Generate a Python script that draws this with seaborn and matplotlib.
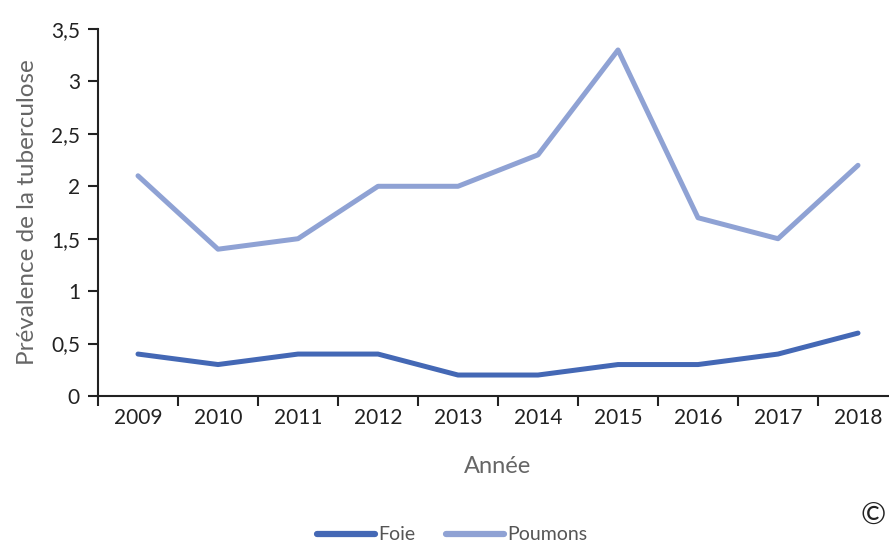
import matplotlib
matplotlib.use("Agg")
import matplotlib.pyplot as plt
import seaborn as sns
import pandas as pd
from matplotlib.lines import Line2D

years = ["2009", "2010", "2011", "2012", "2013", "2014", "2015", "2016", "2017", "2018"]
foie = [0.4, 0.3, 0.4, 0.4, 0.2, 0.2, 0.3, 0.3, 0.4, 0.6]
poumons = [2.1, 1.4, 1.5, 2.0, 2.0, 2.3, 3.3, 1.7, 1.5, 2.2]
yticks = [0, 0.5, 1, 1.5, 2, 2.5, 3, 3.5]
ytick_labels = ["0", "0,5", "1", "1,5", "2", "2,5", "3", "3,5"]

sns.set_theme(style="white")
plt.rcParams['font.family'] = ['Lato', 'DejaVu Sans']

df = pd.DataFrame({
    "Année": years * 2,
    "val": foie + poumons,
    "organe": ["Foie"] * len(years) + ["Poumons"] * len(years),
})

fig = plt.figure(figsize=(8.89, 5.45), dpi=100)
ax = fig.add_axes([98 / 889, 1 - 396 / 545, 800 / 889, (396 - 29) / 545])

sns.lineplot(data=df, x="Année", y="val", hue="organe",
             palette={"Foie": "#4468b5", "Poumons": "#8fa2d4"},
             linewidth=3.6, ax=ax, legend=False, sort=False)

ax.set_xlim(-0.5, len(years) - 0.5)
ax.set_ylim(0, 3.5)
ax.set_yticks(yticks)
ax.set_yticklabels(ytick_labels)
ax.set_xticks(range(len(years)))
ax.set_xticklabels(years)
ax.set_xticks([i - 0.5 for i in range(len(years) + 1)], minor=True)

for s in ["top", "right"]:
    ax.spines[s].set_visible(False)
for s in ["left", "bottom"]:
    ax.spines[s].set_color("#222222")
    ax.spines[s].set_linewidth(1.5)

ax.tick_params(axis="y", which="major", direction="out", length=7, width=1.5,
               color="#222222", labelsize=15, labelcolor="#222222", left=True, pad=6)
ax.tick_params(axis="x", which="major", length=0, labelsize=15,
               labelcolor="#222222", pad=9)
ax.tick_params(axis="x", which="minor", direction="out", length=7, width=1.5,
               color="#222222", bottom=True)

ax.set_xlabel("Année", fontsize=17, color="#666666", labelpad=20)
ax.set_ylabel("Prévalence de la tuberculose", fontsize=17.5, color="#666666", labelpad=9)

handles = [Line2D([0], [0], color="#4468b5", lw=4.5),
           Line2D([0], [0], color="#8fa2d4", lw=4.5)]
fig.legend(handles, ["Foie", "Poumons"], loc="center", bbox_to_anchor=(452 / 889, 1 - 535 / 545),
           ncol=2, frameon=False, fontsize=14, labelcolor="#555555",
           handlelength=3.0, handletextpad=0.15, columnspacing=1.6)

fig.text(886 / 889, 1 - 516 / 545, "©", fontsize=22, color="#222222", ha="right", va="center")

fig.savefig("out.png", dpi=100)
